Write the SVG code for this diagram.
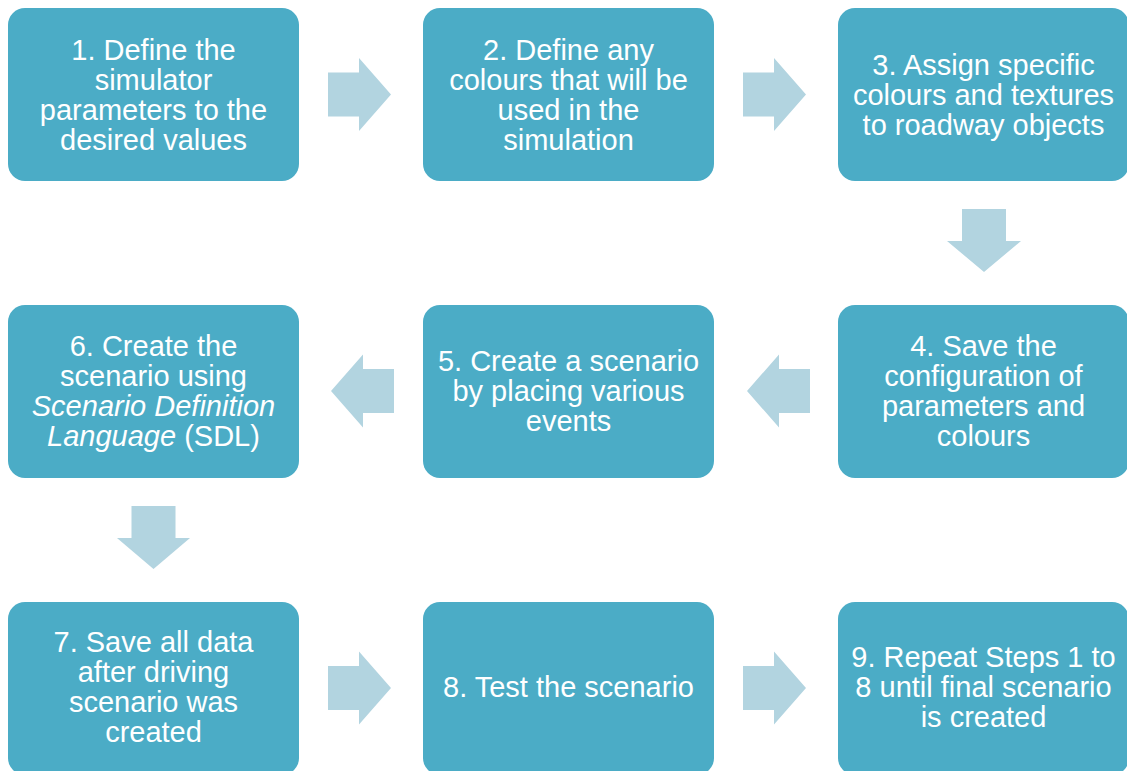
<svg xmlns="http://www.w3.org/2000/svg" width="1127" height="771" viewBox="0 0 1127 771">
<style>
.box{fill:#4BACC6;}
.arr{fill:#B2D4E0;}
.t{font-family:"Liberation Sans",Arial,sans-serif;font-size:29px;fill:#FFFFFF;text-anchor:middle;}
.i{font-style:italic;}
</style>
<rect width="1127" height="771" fill="#FFFFFF"/>
<g id="connectors">
<polygon class="arr" points="328,72.5 359,72.5 359,58 391,94.5 359,131 359,116.5 328,116.5"/>
<polygon class="arr" points="743,72.5 774,72.5 774,58 806,94.5 774,131 774,116.5 743,116.5"/>
<polygon class="arr" points="962,209 1006,209 1006,241 1021,241 984,272 947,241 962,241"/>
<polygon class="arr" points="810,369 779,369 779,354.5 747,391 779,427.5 779,413 810,413"/>
<polygon class="arr" points="394,369 363,369 363,354.5 331,391 363,427.5 363,413 394,413"/>
<polygon class="arr" points="131.5,506 175.5,506 175.5,538 190,538 153.5,569 117,538 131.5,538"/>
<polygon class="arr" points="328,666 359,666 359,651.5 391,688 359,724.5 359,710 328,710"/>
<polygon class="arr" points="743,666 774,666 774,651.5 806,688 774,724.5 774,710 743,710"/>
</g>
<g id="n1">
<rect class="box" x="8" y="8" width="291" height="173" rx="17"/>
<text class="t"><tspan x="153.5" y="59.5">1. Define the</tspan><tspan x="153.5" y="89.5">simulator</tspan><tspan x="153.5" y="119.5">parameters to the</tspan><tspan x="153.5" y="149.5">desired values</tspan></text>
</g>
<g id="n2">
<rect class="box" x="423" y="8" width="291" height="173" rx="17"/>
<text class="t"><tspan x="568.5" y="59.5">2. Define any</tspan><tspan x="568.5" y="89.5">colours that will be</tspan><tspan x="568.5" y="119.5">used in the</tspan><tspan x="568.5" y="149.5">simulation</tspan></text>
</g>
<g id="n3">
<rect class="box" x="838" y="8" width="291" height="173" rx="17"/>
<text class="t"><tspan x="983.5" y="74.5">3. Assign specific</tspan><tspan x="983.5" y="104.5">colours and textures</tspan><tspan x="983.5" y="134.5">to roadway objects</tspan></text>
</g>
<g id="n4">
<rect class="box" x="838" y="305" width="291" height="173" rx="17"/>
<text class="t"><tspan x="983.5" y="356">4. Save the</tspan><tspan x="983.5" y="386">configuration of</tspan><tspan x="983.5" y="416">parameters and</tspan><tspan x="983.5" y="446">colours</tspan></text>
</g>
<g id="n5">
<rect class="box" x="423" y="305" width="291" height="173" rx="17"/>
<text class="t"><tspan x="568.5" y="371">5. Create a scenario</tspan><tspan x="568.5" y="401">by placing various</tspan><tspan x="568.5" y="431">events</tspan></text>
</g>
<g id="n6">
<rect class="box" x="8" y="305" width="291" height="173" rx="17"/>
<text class="t"><tspan x="153.5" y="356">6. Create the</tspan><tspan x="153.5" y="386">scenario using</tspan><tspan x="153.5" y="416" class="i">Scenario Definition</tspan><tspan x="153.5" y="446"><tspan class="i">Language</tspan> (SDL)</tspan></text>
</g>
<g id="n7">
<rect class="box" x="8" y="602" width="291" height="173" rx="17"/>
<text class="t"><tspan x="153.5" y="651.5">7. Save all data</tspan><tspan x="153.5" y="681.5">after driving</tspan><tspan x="153.5" y="711.5">scenario was</tspan><tspan x="153.5" y="741.5">created</tspan></text>
</g>
<g id="n8">
<rect class="box" x="423" y="602" width="291" height="173" rx="17"/>
<text class="t"><tspan x="568.5" y="696.5">8. Test the scenario</tspan></text>
</g>
<g id="n9">
<rect class="box" x="838" y="602" width="291" height="173" rx="17"/>
<text class="t"><tspan x="983.5" y="666.5">9. Repeat Steps 1 to</tspan><tspan x="983.5" y="696.5">8 until final scenario</tspan><tspan x="983.5" y="726.5">is created</tspan></text>
</g>
</svg>
